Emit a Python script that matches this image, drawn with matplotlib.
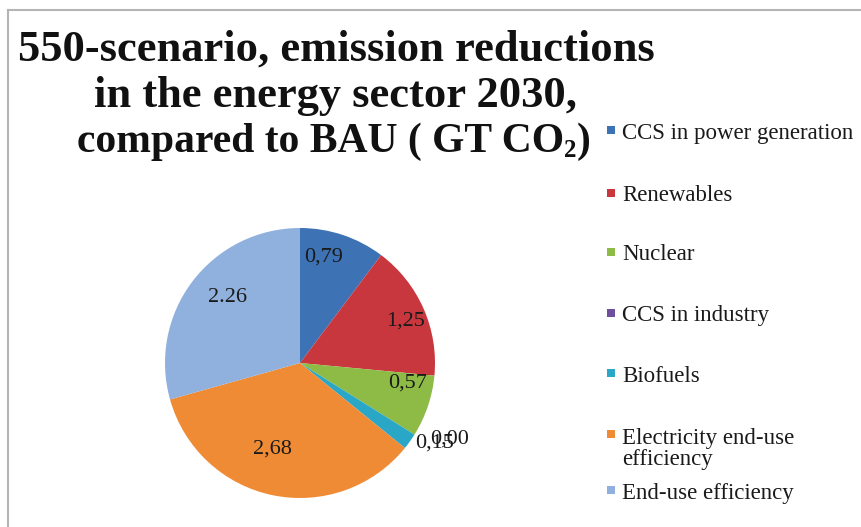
import matplotlib
matplotlib.use("Agg")
import matplotlib.pyplot as plt
import numpy as np
from matplotlib.patches import Rectangle
from matplotlib.lines import Line2D

categories = ["CCS in power generation", "Renewables", "Nuclear", "CCS in industry",
              "Biofuels", "Electricity end-use\nefficiency", "End-use efficiency"]
values = [0.79, 1.25, 0.57, 0.00, 0.15, 2.68, 2.26]
value_labels = ["0,79", "1,25", "0,57", "0,00", "0,15", "2,68", "2.26"]
colors = ["#3d72b4", "#c9373e", "#8dbb45", "#6e4f9e", "#2aa7c6", "#ef8b35", "#90b1dd"]

title_lines = ["550-scenario, emission reductions",
               "in the energy sector 2030,"]
title_last = ["compared to BAU ( GT CO", "2", ")"]

W, H = 862, 527
fig = plt.figure(figsize=(W / 100, H / 100), dpi=100)
fig.patch.set_facecolor("white")
renderer = fig.canvas.get_renderer()

serif = ["Liberation Serif", "DejaVu Serif"]

# frame lines (top and left)
fig.add_artist(Line2D([8 / W, 1], [1 - 10 / H, 1 - 10 / H], color="#b4b4b4", lw=1.5))
fig.add_artist(Line2D([8 / W, 8 / W], [0, 1 - 10 / H], color="#b4b4b4", lw=1.5))

# pie axes: center (300, 363) px, radius 135 px
cx, cy, r = 300, 363, 135
ax = fig.add_axes([(cx - r) / W, (H - cy - r) / H, 2 * r / W, 2 * r / H])
wedges, _ = ax.pie(values, colors=colors, startangle=90, counterclock=False,
                   radius=1.0, wedgeprops=dict(linewidth=0))
ax.set_xlim(-1, 1)
ax.set_ylim(-1, 1)
ax.set_aspect("equal")
ax.axis("off")

# label placement: radial distance and angle nudge per label
label_r = [0.80, 0.84, 0.81, 1.24, 1.16, 0.67, 0.72]
label_da = [6, -2, 8, 5, 5, -6, -5]
for w, txt, rr, da in zip(wedges, value_labels, label_r, label_da):
    ang = np.deg2rad((w.theta1 + w.theta2) / 2 + da)
    ax.text(rr * np.cos(ang), rr * np.sin(ang), txt, ha="center", va="center",
            fontsize=16, family=serif, color="#1a1a1a", clip_on=False)

# title, one line at a time
tkw = dict(fontweight="bold", family=serif, color="#111111")
title_y = [45, 92]
for line, y in zip(title_lines, title_y):
    fig.text(336 / W, 1 - y / H, line, ha="center", va="center_baseline", fontsize=32, **tkw)

# last title line with a small subscript 2
sizes = [30, 18, 30]
drops = [0, 5, 0]
pieces = []
for s, fs in zip(title_last, sizes):
    t = fig.text(0, 0, s, ha="left", va="baseline", fontsize=fs, **tkw)
    pieces.append(t)
widths = [p.get_window_extent(renderer).width for p in pieces]
total = sum(widths)
x = 334 - total / 2
base = 152
for p, wpx, d in zip(pieces, widths, drops):
    p.set_position((x / W, 1 - (base + d) / H))
    x += wpx

# manual legend
leg_y = [133, 196, 255, 316, 376, 449, 493]
for col, lab, y in zip(colors, categories, leg_y):
    nlines = lab.count("\n") + 1
    y_first = y - (nlines - 1) * 12
    fig.add_artist(Rectangle((607 / W, 1 - (y_first + 1) / H), 8 / W, 8 / H,
                             facecolor=col, edgecolor="none", transform=fig.transFigure))
    fig.text(622 / W, 1 - y / H, lab, ha="left", va="center", fontsize=16.5,
             family=serif, color="#1a1a1a", linespacing=1.05)

fig.savefig("out.png", dpi=100, facecolor="white")
